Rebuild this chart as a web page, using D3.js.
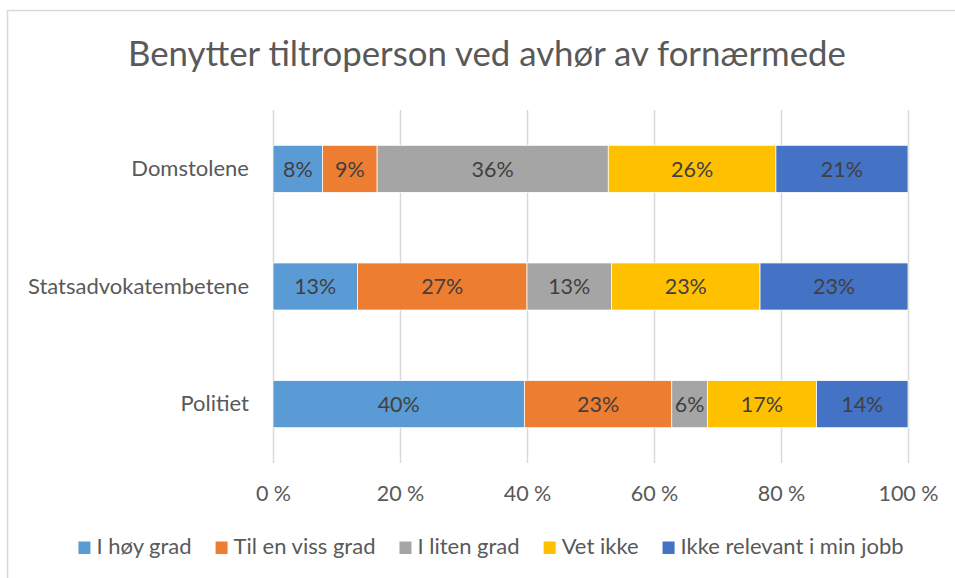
<!DOCTYPE html>
<html>
<head>
<meta charset="utf-8">
<script src="https://cdn.jsdelivr.net/npm/d3@7"></script>
<style>
  body { margin: 0; background: #fff; }
  svg { display: block; font-family: Lato, "Open Sans", sans-serif; }
</style>
</head>
<body>
<svg id="chart" width="955" height="578"></svg>
<script>
// chart values (percent of respondents per group)
const categories = ["Domstolene", "Statsadvokatembetene", "Politiet"];
const seriesNames = ["I høy grad", "Til en viss grad", "I liten grad", "Vet ikke", "Ikke relevant i min jobb"];
const hoyGrad = [7.8, 13.3, 39.6];
const vissGrad = [8.6, 26.7, 23.2];
const litenGrad = [36.4, 13.3, 5.6];
const vetIkke = [26.4, 23.4, 17.2];
const ikkeRelevant = [20.8, 23.3, 14.4];
const xTicks = [0, 20, 40, 60, 80, 100];
const title = "Benytter tiltroperson ved avhør av fornærmede";

const colors = ["#5B9BD5", "#ED7D31", "#A5A5A5", "#FFC000", "#4472C4"];

// build rows for d3.stack
const seriesValues = [hoyGrad, vissGrad, litenGrad, vetIkke, ikkeRelevant];
const rows = categories.map((c, i) => {
    let row = { category: c };
    seriesNames.forEach((s, j) => { row[s] = seriesValues[j][i]; });
    return row;
});

const svg = d3.select("#chart");

// chart frame
svg.append("rect")
    .attr("x", 7.5).attr("y", 10.5)
    .attr("width", 975).attr("height", 600)
    .attr("fill", "#fff")
    .attr("stroke", "#d9d9d9")
    .attr("stroke-width", 1.5);

// title
svg.append("text")
    .attr("x", 487).attr("y", 66)
    .attr("text-anchor", "middle")
    .attr("fill", "#595959")
    .style("font-size", "34.8px")
    .text(title);

const plotTop = 110, plotBottom = 463;

const x = d3.scaleLinear()
    .domain([0, 100])
    .range([273, 908]);

const y = d3.scaleBand()
    .domain(categories)
    .range([plotTop, plotBottom])
    .paddingInner(0.6)
    .paddingOuter(0.3);

// gridlines + tick labels
const xAxis = svg.append("g")
    .attr("transform", `translate(0,${plotBottom})`)
    .call(d3.axisBottom(x)
        .tickValues(xTicks)
        .tickSizeInner(-(plotBottom - plotTop))
        .tickSizeOuter(0)
        .tickFormat(d => d + " %"));

xAxis.select(".domain").remove();
xAxis.selectAll(".tick line")
    .attr("stroke", "#d9d9d9")
    .attr("stroke-width", 1.5);
xAxis.selectAll(".tick text")
    .attr("y", 38)
    .attr("dy", null)
    .attr("fill", "#595959")
    .style("font-size", "21.5px")
    .style("font-family", "Lato, sans-serif");

// category labels
const yAxis = svg.append("g")
    .attr("transform", "translate(273,0)")
    .call(d3.axisLeft(y).tickSize(0).tickPadding(24));

yAxis.select(".domain").remove();
yAxis.selectAll(".tick text")
    .attr("fill", "#595959")
    .style("font-size", "22px")
    .style("font-family", "Lato, sans-serif");

// stacked bars
const stacked = d3.stack().keys(seriesNames)(rows);

const layers = svg.append("g")
    .selectAll("g")
    .data(stacked)
    .join("g")
    .attr("fill", (d, i) => colors[i]);

layers.selectAll("rect")
    .data(d => d)
    .join("rect")
    .attr("x", d => x(d[0]))
    .attr("y", d => y(d.data.category))
    .attr("width", d => x(d[1]) - x(d[0]))
    .attr("height", y.bandwidth())
    .attr("stroke", "#fff")
    .attr("stroke-width", 0.75);

// value labels
layers.selectAll("text")
    .data(d => d)
    .join("text")
    .attr("x", d => (x(d[0]) + x(d[1])) / 2)
    .attr("y", d => y(d.data.category) + y.bandwidth() / 2)
    .attr("dy", "0.36em")
    .attr("text-anchor", "middle")
    .attr("fill", "#404040")
    .style("font-size", "21.5px")
    .text(d => Math.round(d[1] - d[0]) + "%");

// legend, centred under chart
const legend = svg.append("g");
const legendY = 554;
const legendItems = legend.selectAll("g")
    .data(seriesNames)
    .join("g");

legendItems.append("rect")
    .attr("width", 12).attr("height", 12.5)
    .attr("y", legendY - 12.5)
    .attr("fill", (d, i) => colors[i]);

legendItems.append("text")
    .attr("x", 18)
    .attr("y", legendY)
    .attr("fill", "#595959")
    .style("font-size", "22px")
    .text(d => d);

let offset = 0;
const gap = 24;
legendItems.each(function() {
    const w = 18 + d3.select(this).select("text").node().getComputedTextLength();
    d3.select(this).attr("transform", `translate(${offset},0)`);
    offset += w + gap;
});
const legendWidth = offset - gap;
legend.attr("transform", `translate(${491 - legendWidth / 2},0)`);
</script>
</body>
</html>
